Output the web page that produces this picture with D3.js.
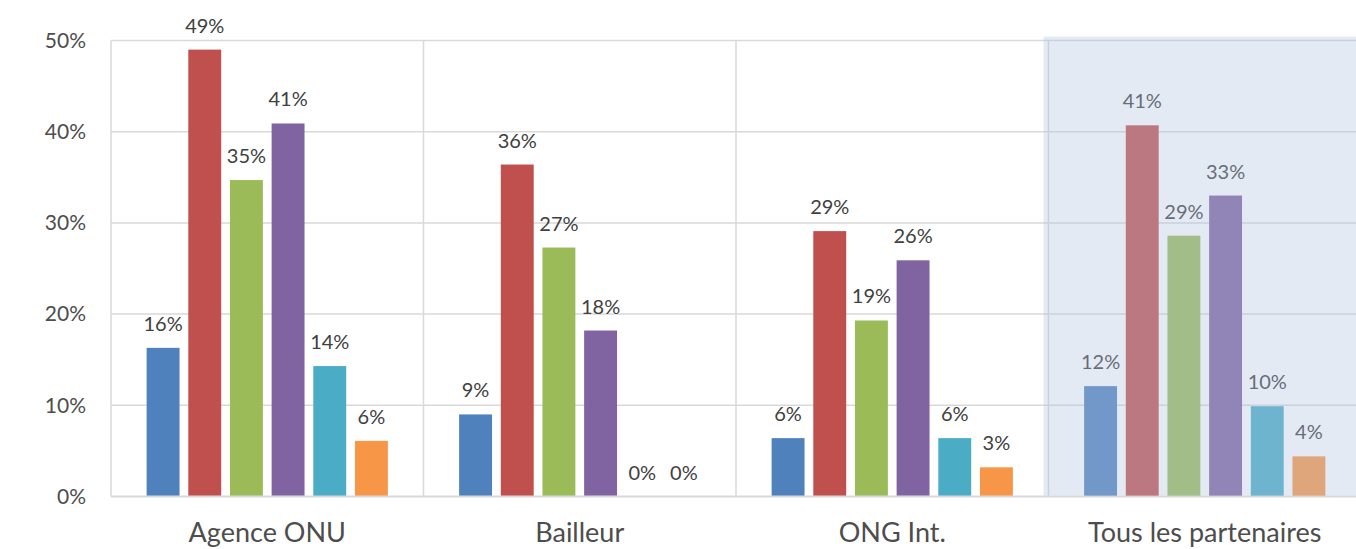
<!DOCTYPE html>
<html>
<head>
<meta charset="utf-8">
<script src="https://cdn.jsdelivr.net/npm/d3@7"></script>
<style>
  body { margin: 0; background: #fff; }
  svg { display: block; font-family: Lato, "Open Sans", sans-serif; }
</style>
</head>
<body>
<div id="chart"></div>
<script>
// categories along the x axis
var categories = ["Agence ONU", "Bailleur", "ONG Int.", "Tous les partenaires"];

// one array per series (values in %)
var serieBleu   = [16.3, 9.0, 6.4, 12.1];
var serieRouge  = [49.0, 36.4, 29.1, 40.7];
var serieVert   = [34.7, 27.3, 19.3, 28.6];
var serieViolet = [40.9, 18.2, 25.9, 33.0];
var serieCyan   = [14.3, 0, 6.4, 9.9];
var serieOrange = [6.1, 0, 3.2, 4.4];

var yTicks = [0, 10, 20, 30, 40, 50];

var seriesNames = ["bleu", "rouge", "vert", "violet", "cyan", "orange"];
var seriesValues = [serieBleu, serieRouge, serieVert, serieViolet, serieCyan, serieOrange];
var colors = ["#4F81BD", "#C0504D", "#9BBB59", "#8064A2", "#4BACC6", "#F79646"];

// svg area
var svgWidth = 1356;
var svgHeight = 549;

var margin = { top: 40.5, left: 111 };
var bandW = 312.5;
var width = bandW * categories.length;
var height = 456;

var svg = d3.select("#chart")
  .append("svg")
  .attr("width", svgWidth)
  .attr("height", svgHeight);

var chartGroup = svg.append("g")
  .attr("transform", `translate(${margin.left}, ${margin.top})`);

// scales
var x0 = d3.scaleBand()
  .domain(categories)
  .range([0, width])
  .padding(0);

var x1 = d3.scaleBand()
  .domain(seriesNames)
  .range([0, x0.bandwidth()])
  .paddingInner(0.21)
  .paddingOuter(0.855);

var yLinearScale = d3.scaleLinear()
  .domain([0, 50])
  .range([height, 0]);

// horizontal gridlines
chartGroup.append("g")
  .selectAll("line")
  .data(yTicks.slice(1))
  .enter()
  .append("line")
  .attr("x1", 0)
  .attr("x2", width)
  .attr("y1", d => yLinearScale(d))
  .attr("y2", d => yLinearScale(d))
  .attr("stroke", "#D9D9D9")
  .attr("stroke-width", 1.5);

// vertical separators between categories
chartGroup.append("g")
  .selectAll("line")
  .data(categories)
  .enter()
  .append("line")
  .attr("x1", d => x0(d))
  .attr("x2", d => x0(d))
  .attr("y1", 0)
  .attr("y2", height)
  .attr("stroke", "#D9D9D9")
  .attr("stroke-width", 1.5);

// y axis labels
var leftAxis = d3.axisLeft(yLinearScale)
  .tickValues(yTicks)
  .tickSize(0)
  .tickPadding(25)
  .tickFormat(d => d + "%");

chartGroup.append("g")
  .call(leftAxis)
  .call(g => g.select(".domain").remove())
  .selectAll("text")
  .attr("fill", "#4d4d4d")
  .style("font-size", "21px")
  .style("font-family", "Lato, sans-serif");

// bars
var groups = chartGroup.selectAll(".cat")
  .data(categories)
  .enter()
  .append("g")
  .attr("class", "cat")
  .attr("transform", d => `translate(${x0(d)}, 0)`);

groups.selectAll("rect")
  .data((d, i) => seriesNames.map((s, j) => ({ serie: s, value: seriesValues[j][i], color: colors[j] })))
  .enter()
  .append("rect")
  .attr("x", d => x1(d.serie))
  .attr("width", x1.bandwidth())
  .attr("y", d => yLinearScale(d.value))
  .attr("height", d => height - yLinearScale(d.value))
  .attr("fill", d => d.color);

// data labels
groups.selectAll("text")
  .data((d, i) => seriesNames.map((s, j) => ({ serie: s, value: seriesValues[j][i] })))
  .enter()
  .append("text")
  .attr("x", d => x1(d.serie) + x1.bandwidth() / 2)
  .attr("y", d => yLinearScale(d.value) - 17)
  .attr("text-anchor", "middle")
  .attr("fill", "#404040")
  .style("font-size", "20px")
  .text(d => Math.round(d.value) + "%");

// bottom axis line
chartGroup.append("line")
  .attr("x1", 0)
  .attr("x2", width)
  .attr("y1", height)
  .attr("y2", height)
  .attr("stroke", "#D9D9D9")
  .attr("stroke-width", 2);

// category labels
var bottomAxis = d3.axisBottom(x0)
  .tickSize(0)
  .tickPadding(26);

chartGroup.append("g")
  .attr("transform", `translate(0, ${height})`)
  .call(bottomAxis)
  .call(g => g.select(".domain").remove())
  .selectAll("text")
  .attr("fill", "#4d4d4d")
  .style("font-size", "27px")
  .style("font-family", "Lato, sans-serif");

// highlight over the last category
var last = categories[categories.length - 1];
chartGroup.append("rect")
  .attr("x", x0(last) - 5)
  .attr("y", -4)
  .attr("width", x0.bandwidth() + 10)
  .attr("height", height + 3)
  .attr("fill", "rgb(178,195,224)")
  .attr("fill-opacity", 0.35);
</script>
</body>
</html>
